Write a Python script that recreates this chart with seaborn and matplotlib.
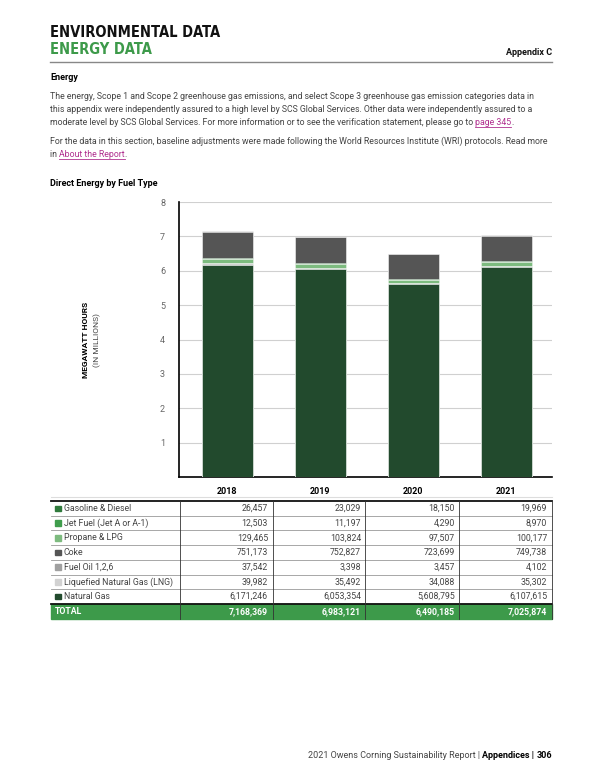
import numpy as np
import pandas as pd
import matplotlib
matplotlib.use("Agg")
import matplotlib.pyplot as plt
import seaborn as sns
from matplotlib.lines import Line2D
from matplotlib.patches import Rectangle

# data
years = ["2018", "2019", "2020", "2021"]
fuels = ["Gasoline & Diesel", "Jet Fuel (Jet A or A-1)", "Propane & LPG", "Coke",
         "Fuel Oil 1,2,6", "Liquefied Natural Gas (LNG)", "Natural Gas"]
gasoline = [26457, 23029, 18150, 19969]
jet_fuel = [12503, 11197, 4290, 8970]
propane = [129465, 103824, 97507, 100177]
coke = [751173, 752827, 723699, 749738]
fuel_oil = [37542, 3398, 3457, 4102]
lng = [39982, 35492, 34088, 35302]
natural_gas = [6171246, 6053354, 5608795, 6107615]
totals = [7168369, 6983121, 6490185, 7025874]

colors = {
    "Gasoline & Diesel": "#2f7a3c",
    "Jet Fuel (Jet A or A-1)": "#3f9d4c",
    "Propane & LPG": "#7dbb7f",
    "Coke": "#555555",
    "Fuel Oil 1,2,6": "#a0a0a0",
    "Liquefied Natural Gas (LNG)": "#d2d2d2",
    "Natural Gas": "#224a2d",
}
values = {
    "Gasoline & Diesel": gasoline, "Jet Fuel (Jet A or A-1)": jet_fuel,
    "Propane & LPG": propane, "Coke": coke, "Fuel Oil 1,2,6": fuel_oil,
    "Liquefied Natural Gas (LNG)": lng, "Natural Gas": natural_gas,
}
# order of the stack, bottom first
stack = ["Natural Gas", "Liquefied Natural Gas (LNG)", "Propane & LPG",
         "Jet Fuel (Jet A or A-1)", "Gasoline & Diesel", "Coke", "Fuel Oil 1,2,6"]

W, H = 600, 776
plt.rcParams['font.family'] = ['Roboto', 'DejaVu Sans']
fig = plt.figure(figsize=(6, 7.76), dpi=100)
renderer = fig.canvas.get_renderer()

def fx(x):
    return x / W

def fy(y):
    return 1 - y / H

# header
cond = dict(family=['DejaVu Sans'], fontstretch='condensed', weight='bold',
            fontsize=10.5, va='baseline')
fig.text(fx(50), fy(37), "ENVIRONMENTAL DATA", color='#111111', **cond)
fig.text(fx(50), fy(54), "ENERGY DATA", color='#3d9a4a', **cond)
fig.text(fx(552), fy(55), "Appendix C", weight='bold', fontsize=6.5,
         ha='right', va='baseline', color='#111111')
fig.add_artist(Line2D([fx(50), fx(552)], [fy(62), fy(62)], color='#888888', lw=1))

fig.text(fx(50), fy(80), "Energy", weight='bold', fontsize=6.5, va='baseline')

body = dict(fontsize=6.3, color='#444444', va='baseline')
link = dict(fontsize=6.3, color='#b0308f', va='baseline')


def add_link(prev, label, tail, yy):
    bb = prev.get_window_extent(renderer)
    lt = fig.text(bb.x1 / W, fy(yy), label, **link)
    lb = lt.get_window_extent(renderer)
    fig.add_artist(Line2D([lb.x0 / W, lb.x1 / W], [fy(yy + 1.5), fy(yy + 1.5)],
                          color='#b0308f', lw=0.6))
    fig.text(lb.x1 / W, fy(yy), tail, **body)


fig.text(fx(50), fy(99), "The energy, Scope 1 and Scope 2 greenhouse gas emissions, and select "
         "Scope 3 greenhouse gas emission categories data in", **body)
fig.text(fx(50), fy(112), "this appendix were independently assured to a high level by SCS "
         "Global Services. Other data were independently assured to a", **body)
t3 = fig.text(fx(50), fy(125), "moderate level by SCS Global Services. For more information "
              "or to see the verification statement, please go to ", **body)
add_link(t3, "page 345", ".", 125)
fig.text(fx(50), fy(144), "For the data in this section, baseline adjustments were made "
         "following the World Resources Institute (WRI) protocols. Read more", **body)
t5 = fig.text(fx(50), fy(157), "in ", **body)
add_link(t5, "About the Report", ".", 157)

fig.text(fx(50), fy(186), "Direct Energy by Fuel Type", weight='bold',
         fontsize=6.5, va='baseline')

# chart
ax = fig.add_axes([fx(179), fy(477), fx(552) - fx(179), (477 - 202) / H])
df = pd.DataFrame({"year": years})
cum = np.zeros(len(years))
layers = []
for f in stack:
    cum = cum + np.array(values[f]) / 1e6
    layers.append((f, cum.copy()))
for f, c in reversed(layers):
    d = df.assign(v=c)
    sns.barplot(data=d, x="year", y="v", color=colors[f], saturation=1,
                width=0.55, edgecolor='white', linewidth=0.4, ax=ax, zorder=3)

ax.set_ylim(0, 8)
ax.set_xlim(-0.52, 3.49)
ax.set_yticks(range(1, 9))
ax.yaxis.grid(True, color='#d0d0d0', lw=0.8, zorder=0)
ax.set_axisbelow(True)
for s in ['top', 'right']:
    ax.spines[s].set_visible(False)
ax.spines['left'].set_linewidth(1.2)
ax.spines['bottom'].set_linewidth(1.2)
ax.tick_params(axis='y', length=0, pad=10, labelsize=6.5, labelcolor='#666666')
ax.tick_params(axis='x', length=0, pad=7, labelsize=6.5)
for lab in ax.get_xticklabels():
    lab.set_fontweight('bold')
ax.set_xlabel("")
ax.set_ylabel("")
fig.text(fx(85), fy(340), "MEGAWATT HOURS", rotation=90, weight='bold',
         fontsize=6, ha='center', va='center')
fig.text(fx(97), fy(340), "(IN MILLIONS)", rotation=90, fontsize=6,
         color='#444444', ha='center', va='center')

# table
fig.add_artist(Line2D([fx(51), fx(552)], [fy(497), fy(497)], color='#dddddd', lw=0.8))
fig.add_artist(Line2D([fx(51), fx(552)], [fy(501), fy(501)], color='#111111', lw=1.3))
col_x = [180, 273, 365, 459]
num_right = [268, 361, 455, 547]
row_h = 14.7
top = 501
for i, f in enumerate(fuels):
    yc = top + row_h * (i + 0.5)
    fig.add_artist(Rectangle((fx(55), fy(yc + 2.8)), 5.6 / W, 5.6 / H,
                             color=colors[f], transform=fig.transFigure))
    fig.text(fx(64), fy(yc), f, fontsize=6.3, color='#444444', va='center')
    for j in range(4):
        fig.text(fx(num_right[j]), fy(yc), f"{values[f][j]:,}", fontsize=6.3,
                 color='#444444', va='center', ha='right')
    if i < len(fuels) - 1:
        fig.add_artist(Line2D([fx(51), fx(552)], [fy(top + row_h * (i + 1))] * 2,
                              color='#999999', lw=0.6))
tbot = top + row_h * len(fuels)
fig.add_artist(Line2D([fx(51), fx(552)], [fy(tbot)] * 2, color='#111111', lw=1.3))
fig.add_artist(Rectangle((fx(51), fy(tbot + 15)), 501 / W, 14.5 / H,
                         color='#3d9a4a', transform=fig.transFigure))
fig.text(fx(55), fy(tbot + 7.5), "TOTAL", fontsize=6.3, weight='bold',
         color='white', va='center')
for j in range(4):
    fig.text(fx(num_right[j]), fy(tbot + 7.5), f"{totals[j]:,}", fontsize=6.3,
             weight='bold', color='white', va='center', ha='right')
for cx in col_x + [552]:
    fig.add_artist(Line2D([fx(cx), fx(cx)], [fy(top), fy(tbot + 15)],
                          color='#333333', lw=0.6))

# footer
ft = fig.text(fx(552), fy(758), "306", weight='bold', fontsize=6.5, ha='right',
              va='baseline')
b = ft.get_window_extent(renderer)
ft2 = fig.text(b.x0 / W, fy(758), "Appendices | ", weight='bold', fontsize=6.5,
               ha='right', va='baseline')
b2 = ft2.get_window_extent(renderer)
fig.text(b2.x0 / W, fy(758), "2021 Owens Corning Sustainability Report | ",
         fontsize=6.5, color='#444444', ha='right', va='baseline')

fig.savefig("out.png", dpi=100)
